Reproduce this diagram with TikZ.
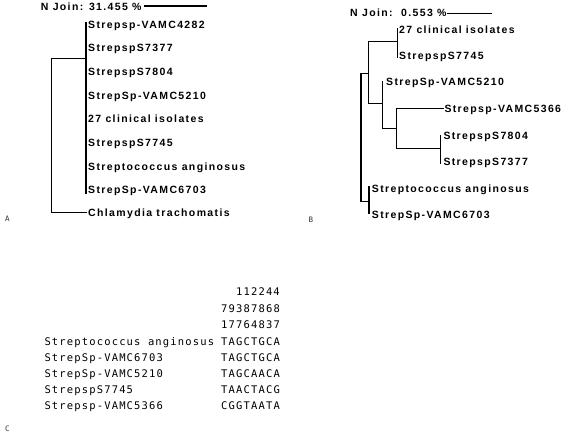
\documentclass[tikz,border=0pt]{standalone}
\usepackage{fontspec}
\newfontfamily\treefont[LetterSpace=13]{Liberation Sans}
\newfontfamily\seqfont[LetterSpace=11]{DejaVu Sans Mono}
\newfontfamily\panelfont{DejaVu Sans Mono}
\begin{document}
\begin{tikzpicture}[x=1pt,y=-1pt,
  tl/.style={anchor=base west,inner sep=0pt,font=\treefont\bfseries\fontsize{10.5}{12}\selectfont},
  sq/.style={anchor=base west,inner sep=0pt,text=black,font=\seqfont\fontsize{10.5}{12}\selectfont},
  pl/.style={anchor=base west,inner sep=0pt,text=black!80,font=\panelfont\fontsize{7.5}{9}\selectfont},
  br/.style={line width=1.2pt,line cap=rect},
  sb/.style={line width=1.4pt}]
\useasboundingbox (0,0) rectangle (565,435);
\fill[white] (0,0) rectangle (565,435);

% ---------------- Panel A ----------------
\node[tl] (at) at (40.7,10.7) {N Join: 31.455 \%};
\coordinate (as1) at (143.5,6);
\coordinate (as2) at (207.3,6);
\draw[sb] (as1) -- (as2);

\node[tl] (a1) at (88,28.3) {Strepsp-VAMC4282};
\node[tl] (a2) at (88,52) {StrepspS7377};
\node[tl] (a3) at (88,75.7) {StrepspS7804};
\node[tl] (a4) at (88,99.3) {StrepSp-VAMC5210};
\node[tl] (a5) at (88,123) {27 clinical isolates};
\node[tl] (a6) at (88,146.6) {StrepspS7745};
\node[tl] (a7) at (88,170.2) {Streptococcus anginosus};
\node[tl] (a8) at (88,193.9) {StrepSp-VAMC6703};
\node[tl] (a9) at (88,216.3) {Chlamydia trachomatis};

\coordinate (aT) at (86,23);
\coordinate (aB) at (86,193);
\coordinate (aM) at (86,58.3);
\coordinate (aR) at (51.7,58.3);
\coordinate (aC) at (86,212.3);
\draw[br] (aT) -- (aB);
\draw[br] ([xshift=-0.7pt]aT) -- ++(0,69);
\draw[br] (aM) -- (aR) |- (aC);

\node[pl] (pa) at (5,221.7) {A};

% ---------------- Panel B ----------------
\node[tl] (bt) at (350,17) {N Join:\ \ 0.553 \%};
\coordinate (bs1) at (446.7,13.3);
\coordinate (bs2) at (492.3,13.3);
\draw[sb] (bs1) -- (bs2);

\node[tl] (b1) at (399,33.3) {27 clinical isolates};
\node[tl] (b2) at (399,60) {StrepspS7745};
\node[tl] (b3) at (386,86) {StrepSp-VAMC5210};
\node[tl] (b4) at (444.3,112.7) {Strepsp-VAMC5366};
\node[tl] (b5) at (443.3,139.3) {StrepspS7804};
\node[tl] (b6) at (443.3,165.7) {StrepspS7377};
\node[tl] (b7) at (371.7,192.3) {Streptococcus anginosus};
\node[tl] (b8) at (371.7,218.3) {StrepSp-VAMC6703};

% clade (27 clinical isolates, S7745)
\coordinate (v1t) at (397.3,28.3);
\coordinate (v1b) at (397.3,57.3);
\coordinate (n1) at (397.3,41.7);
% inner ingroup node
\coordinate (n2) at (368.3,41.7);
\coordinate (n2b) at (368.3,103.3);
% clade 5210 + rest
\coordinate (n3) at (382.3,103.3);
\coordinate (v3t) at (382.3,81.7);
\coordinate (v3b) at (382.3,128.3);
% clade 5366 + (7804, 7377)
\coordinate (n4) at (396.7,128.3);
\coordinate (v4t) at (396.7,108.3);
\coordinate (v4b) at (396.7,148.3);
\coordinate (l5366) at (443.3,108.3);
\coordinate (n5) at (440.7,148.3);
\coordinate (v5t) at (440.7,135.7);
\coordinate (v5b) at (440.7,163.3);
% root
\coordinate (rt) at (361,73.3);
\coordinate (rb) at (361,201.7);
\coordinate (n6) at (369,201.7);
\coordinate (v6t) at (369,186.7);
\coordinate (v6b) at (369,213.3);

\draw[br] (v1t) -- (v1b);
\draw[br] (n1) -- (n2) -- (n2b) -- (n3);
\draw[br] (v3t) -- (v3b);
\draw[br] (v3b) -- (n4);
\draw[br] (v4t) -- (v4b);
\draw[br] (v4t) -- (l5366);
\draw[br] (v4b) -- (n5);
\draw[br] (v5t) -- (v5b);
\draw[br] (rt -| n2) -- (rt) -- (rb) -- (n6);
\draw[br] (v6t) -- (v6b);

\node[pl] (pb) at (308.3,223) {B};

% ---------------- Panel C ----------------
\node[sq] (h1) at (235.9,296) {112244};
\node[sq] (h2) at (221,312.5) {79387868};
\node[sq] (h3) at (221,329) {17764837};

\node[sq] (c1) at (44.3,345.5) {Streptococcus anginosus};
\node[sq] (c2) at (44.3,361.5) {StrepSp-VAMC6703};
\node[sq] (c3) at (44.3,377.5) {StrepSp-VAMC5210};
\node[sq] (c4) at (44.3,393.5) {StrepspS7745};
\node[sq] (c5) at (44.3,409.5) {Strepsp-VAMC5366};

\node[sq] (s1) at (221,345.5) {TAGCTGCA};
\node[sq] (s2) at (221,361.5) {TAGCTGCA};
\node[sq] (s3) at (221,377.5) {TAGCAACA};
\node[sq] (s4) at (221,393.5) {TAACTACG};
\node[sq] (s5) at (221,409.5) {CGGTAATA};

\node[pl] (pc) at (5,431.7) {C};
\end{tikzpicture}
\end{document}
